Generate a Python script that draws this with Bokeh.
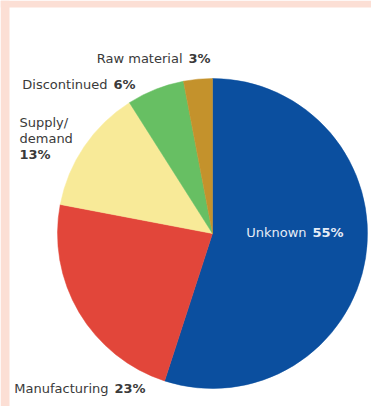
import math
from bokeh.plotting import figure
from bokeh.models import Range1d, ColumnDataSource, BoxAnnotation
from bokeh.core.properties import value
from bokeh.embed import file_html
from bokeh.resources import INLINE

# ---- data ----
categories = ["Unknown", "Manufacturing", "Supply/demand", "Discontinued", "Raw material"]
shares = [55, 23, 13, 6, 3]
colors = ["#0b4f9f", "#e2463a", "#f8ea98", "#67bf63", "#c4922c"]

# ---- layout (screen pixels) ----
W, H = 371, 406
LEFT, TOP = 9, 7
CX, CY, R = 212, 233, 155
PINK = "#fcdfd5"


def sy(y):
    """screen y (from top) -> data y"""
    return H - y


p = figure(width=W, height=H, output_backend="svg", toolbar_location=None,
           x_range=Range1d(0, W), y_range=Range1d(0, H),
           min_border=0, min_border_left=0, min_border_top=0,
           min_border_right=0, min_border_bottom=0)
p.axis.visible = False
p.xgrid.visible = False
p.ygrid.visible = False
p.outline_line_color = None
p.background_fill_color = "white"
p.border_fill_color = "white"

# pink frame strips (left and top)
p.add_layout(BoxAnnotation(right=LEFT, fill_color=PINK, fill_alpha=1, line_color=None, level="underlay"))
p.add_layout(BoxAnnotation(bottom=H - TOP, fill_color=PINK, fill_alpha=1, line_color=None, level="underlay"))

total = float(sum(shares))
starts, ends = [], []
acc = 0.0
for s in shares:
    starts.append(math.pi / 2 - 2 * math.pi * acc / total)
    acc += s
    ends.append(math.pi / 2 - 2 * math.pi * acc / total)

src = ColumnDataSource(dict(start=starts, end=ends, color=colors, cat=categories))
p.wedge(x=CX, y=sy(CY), radius=R, start_angle="start", end_angle="end",
        direction="clock", fill_color="color", line_color="color", line_width=0.5,
        source=src)

FONT = value("DejaVu Sans")
FS = "13px"
DARK = "#3a3a3a"

# single-line labels: (category index, split x, screen y, text colour)
single = [(0, 309, 232, "#e6ecf6"),
          (1, 111, 388, DARK),
          (3, 110, 84, DARK),
          (4, 185, 58, DARK)]
for idx, xs, ys, col in single:
    p.text(x=[xs - 3], y=[sy(ys)], text=[categories[idx]], text_font=FONT,
           text_font_size=FS, text_align="right", text_baseline="middle",
           text_color=col)
    p.text(x=[xs + 3], y=[sy(ys)], text=[f"{shares[idx]}%"], text_font=FONT,
           text_font_size=FS, text_font_style="bold", text_align="left",
           text_baseline="middle", text_color=col)

# multi-line label for Supply/demand
lines = categories[2].replace("/", "/\n").split("\n")
for i, ln in enumerate(lines):
    p.text(x=[19], y=[sy(122 + 16 * i)], text=[ln], text_font=FONT,
           text_font_size=FS, text_align="left", text_baseline="middle",
           text_color=DARK)
p.text(x=[19], y=[sy(122 + 16 * len(lines))], text=[f"{shares[2]}%"],
       text_font=FONT, text_font_size=FS, text_font_style="bold",
       text_align="left", text_baseline="middle", text_color=DARK)

open("out.html", "w").write(file_html(p, INLINE))
